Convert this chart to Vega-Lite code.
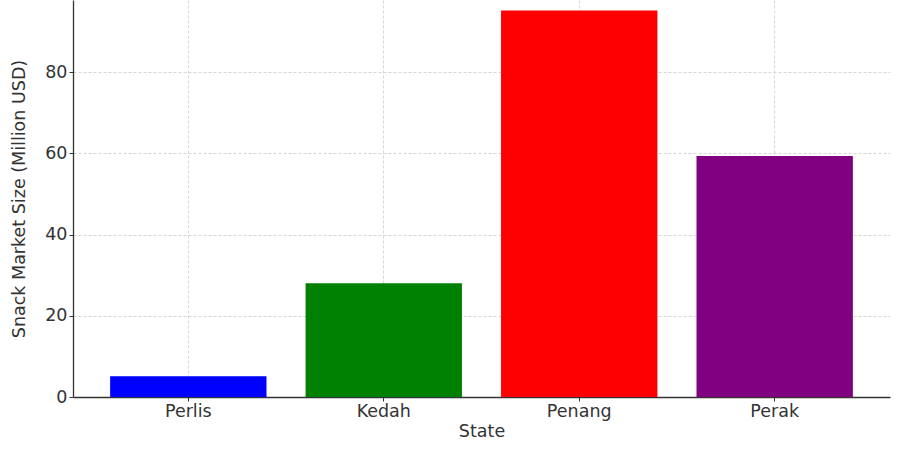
{
  "$schema": "https://vega.github.io/schema/vega-lite/v6.json",
  "width": 817,
  "height": 397,
  "autosize": "none",
  "padding": {"left": 73, "top": 0, "right": 10, "bottom": 56},
  "background": "white",
  "config": {
    "view": {"stroke": null},
    "font": "DejaVu Sans",
    "axis": {
      "labelFont": "DejaVu Sans",
      "titleFont": "DejaVu Sans",
      "labelFontSize": 17.5,
      "titleFontSize": 17.5,
      "labelColor": "#333333",
      "titleColor": "#333333",
      "titleFontWeight": "normal",
      "domainColor": "#333333",
      "domainWidth": 1.3,
      "tickColor": "#333333",
      "tickSize": 4,
      "gridColor": "#cccccc",
      "gridDash": [3, 2],
      "gridWidth": 0.8,
      "zindex": 1
    }
  },
  "data": {
    "values": [
      {"State": "Perlis", "Size": 5.1, "Color": "blue"},
      {"State": "Kedah", "Size": 28.0, "Color": "green"},
      {"State": "Penang", "Size": 95.2, "Color": "red"},
      {"State": "Perak", "Size": 59.4, "Color": "purple"}
    ]
  },
  "mark": {"type": "bar"},
  "encoding": {
    "x": {
      "field": "State",
      "type": "nominal",
      "sort": null,
      "title": "State",
      "scale": {"paddingInner": 0.2, "paddingOuter": 0.19},
      "axis": {"labelAngle": 0, "grid": true, "bandPosition": 0.5, "tickBand": "center", "labelPadding": 1, "titlePadding": 3}
    },
    "y": {
      "field": "Size",
      "type": "quantitative",
      "title": "Snack Market Size (Million USD)",
      "scale": {"domain": [0, 97.8], "nice": false},
      "axis": {"values": [0, 20, 40, 60, 80], "grid": true, "labelPadding": 2, "titlePadding": 16}
    },
    "color": {"field": "Color", "type": "nominal", "scale": null}
  }
}
